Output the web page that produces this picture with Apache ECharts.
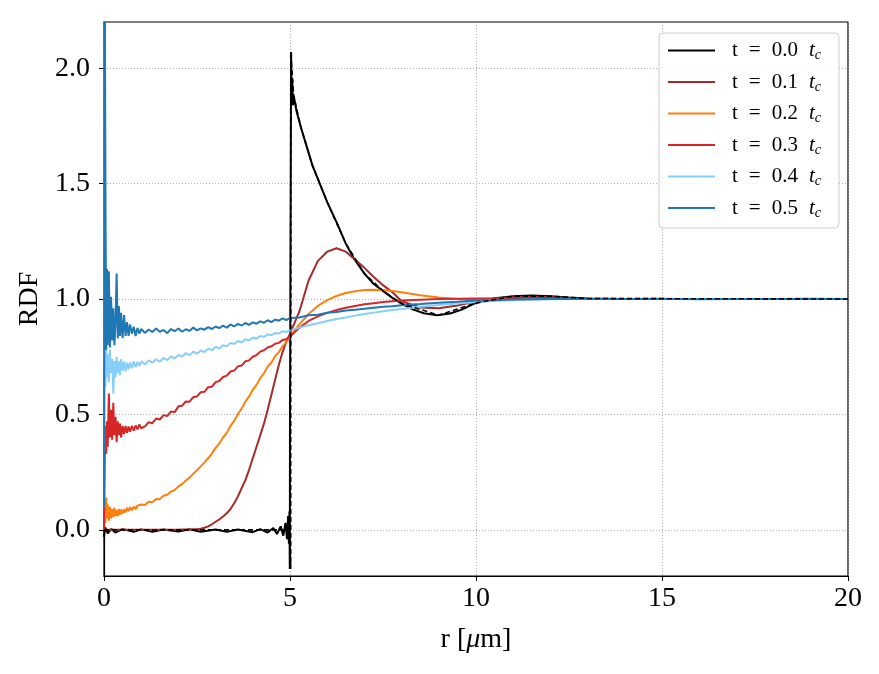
<!DOCTYPE html>
<html>
<head>
<meta charset="utf-8">
<script src="https://cdn.jsdelivr.net/npm/echarts@6/dist/echarts.min.js"></script>
<style>
  html, body { margin: 0; padding: 0; background: #fff; }
  #chart { width: 879px; height: 674px; }
</style>
</head>
<body>
<div id="chart"></div>
<script>
// shared r grid [um] for the t > 0 curves
const r = [
  0, 0.02, 0.04, 0.06, 0.08, 0.1, 0.13, 0.16, 0.19, 0.22,
  0.25, 0.28, 0.31, 0.34, 0.37, 0.4, 0.43, 0.46, 0.5, 0.54,
  0.58, 0.62, 0.66, 0.7, 0.75, 0.8, 0.85, 0.9, 0.95, 1.0,
  1.1, 1.2, 1.3, 1.4, 1.5, 1.6, 1.7, 1.8, 1.9, 2.0,
  2.1, 2.2, 2.3, 2.4, 2.5, 2.6, 2.7, 2.8, 2.9, 3.0,
  3.1, 3.2, 3.3, 3.4, 3.5, 3.6, 3.7, 3.8, 3.9, 4.0,
  4.1, 4.2, 4.3, 4.4, 4.5, 4.6, 4.7, 4.8, 4.9, 5.0,
  5.25, 5.5, 5.75, 6.0, 6.25, 6.5, 6.75, 7.0, 7.25, 7.5,
  7.75, 8.0, 8.5, 9.0, 9.5, 10.0, 10.5, 11.0, 11.5, 12.0,
  12.5, 13.0, 14, 15, 16, 17, 18, 19, 20
];

const rdf01 = [
  0, 0, 0, 0, 0, 0, 0, 0, 0, 0,
  0, 0, 0, 0, 0, 0, 0, 0, 0, 0,
  0, 0, 0, 0, 0, 0, 0, 0, 0, 0,
  0, 0, 0, 0, 0, 0, 0, 0, 0, 0,
  0.001, 0.001, 0.002, 0.002, 0.003, 0.005, 0.009, 0.015, 0.024, 0.035,
  0.045, 0.058, 0.072, 0.09, 0.115, 0.145, 0.18, 0.215, 0.26, 0.31,
  0.36, 0.41, 0.46, 0.52, 0.585, 0.65, 0.715, 0.77, 0.815, 0.85,
  0.945, 1.08, 1.165, 1.205, 1.22, 1.205, 1.17, 1.135, 1.095, 1.06,
  1.03, 0.99, 0.963, 0.96, 0.972, 0.99, 1.002, 1.008, 1.01, 1.009,
  1.004, 1.0, 1.0, 1.0, 1.0, 1.0, 1.0, 1.0, 1.0
];

const rdf02 = [
  0.0, 0.12, 0.03, 0.14, 0.05, 0.11, 0.04, 0.1, 0.05, 0.09,
  0.055, 0.095, 0.06, 0.085, 0.06, 0.09, 0.065, 0.088, 0.07, 0.09,
  0.075, 0.095, 0.08, 0.098, 0.085, 0.1, 0.09, 0.105, 0.097, 0.11,
  0.108, 0.122, 0.12, 0.134, 0.133, 0.148, 0.152, 0.166, 0.172, 0.188,
  0.198, 0.214, 0.226, 0.243, 0.258, 0.275, 0.292, 0.31, 0.33, 0.355,
  0.374, 0.4, 0.42, 0.45, 0.472, 0.502, 0.525, 0.555, 0.578, 0.607,
  0.628, 0.657, 0.678, 0.707, 0.725, 0.752, 0.77, 0.795, 0.813, 0.836,
  0.89, 0.935, 0.97, 0.995, 1.013, 1.026, 1.034, 1.039, 1.04, 1.039,
  1.035, 1.029, 1.016, 1.006, 1.0, 0.997, 0.997, 0.998, 0.999, 1.0,
  1.0, 1.0, 1.0, 1.0, 1.0, 1.0, 1.0, 1.0, 1.0
];

const rdf03 = [
  0.0, 0.3, 0.45, 0.33, 0.47, 0.36, 0.59, 0.4, 0.52, 0.39,
  0.55, 0.41, 0.49, 0.38, 0.47, 0.41, 0.46, 0.4, 0.45, 0.415,
  0.45, 0.42, 0.448, 0.425, 0.45, 0.43, 0.452, 0.435, 0.456, 0.44,
  0.448, 0.466, 0.462, 0.482, 0.478, 0.497, 0.493, 0.513, 0.51, 0.535,
  0.538, 0.556, 0.555, 0.575, 0.578, 0.596, 0.598, 0.618, 0.62, 0.64,
  0.645, 0.662, 0.668, 0.686, 0.69, 0.708, 0.712, 0.73, 0.734, 0.75,
  0.757, 0.772, 0.778, 0.79, 0.795, 0.806, 0.81, 0.822, 0.826, 0.837,
  0.875, 0.905, 0.925, 0.94, 0.952, 0.962, 0.97, 0.977, 0.982, 0.987,
  0.99, 0.993, 0.997, 1.0, 1.001, 1.002, 1.002, 1.002, 1.001, 1.001,
  1.0, 1.0, 1.0, 1.0, 1.0, 1.0, 1.0, 1.0, 1.0
];

const rdf04 = [
  0.1, 2.4, 0.62, 0.8, 0.66, 0.76, 0.64, 0.78, 0.68, 0.74,
  0.59, 0.73, 0.66, 0.75, 0.68, 0.73, 0.67, 0.74, 0.69, 0.73,
  0.685, 0.725, 0.695, 0.725, 0.7, 0.73, 0.705, 0.728, 0.71, 0.73,
  0.716, 0.734, 0.724, 0.739, 0.728, 0.745, 0.735, 0.752, 0.742, 0.758,
  0.75, 0.766, 0.756, 0.772, 0.763, 0.777, 0.77, 0.785, 0.777, 0.793,
  0.786, 0.8, 0.795, 0.81, 0.805, 0.818, 0.812, 0.826, 0.82, 0.833,
  0.828, 0.84, 0.836, 0.847, 0.843, 0.853, 0.85, 0.86, 0.857, 0.866,
  0.876, 0.886, 0.895, 0.905, 0.913, 0.92, 0.928, 0.935, 0.941, 0.947,
  0.952, 0.957, 0.966, 0.974, 0.981, 0.987, 0.992, 0.995, 0.998, 0.999,
  1.0, 1.0, 1.0, 1.0, 1.0, 1.0, 1.0, 1.0, 1.0
];

const rdf05 = [
  0.1, 2.5, 1.37, 0.78, 1.13, 0.8, 1.12, 0.79, 1.01, 0.82,
  0.96, 0.8, 0.9, 1.11, 0.83, 0.97, 0.84, 0.94, 0.83, 0.93,
  0.84, 0.9, 0.84, 0.89, 0.85, 0.88, 0.84, 0.875, 0.85, 0.87,
  0.853, 0.868, 0.857, 0.872, 0.858, 0.866, 0.852, 0.87, 0.861, 0.872,
  0.858, 0.869, 0.862, 0.876, 0.864, 0.873, 0.867, 0.878, 0.87, 0.881,
  0.874, 0.885, 0.876, 0.89, 0.881, 0.892, 0.885, 0.896, 0.888, 0.899,
  0.893, 0.903, 0.897, 0.908, 0.9, 0.911, 0.906, 0.916, 0.909, 0.918,
  0.92, 0.93, 0.932, 0.94, 0.944, 0.95, 0.953, 0.958, 0.962, 0.966,
  0.969, 0.973, 0.978, 0.984, 0.988, 0.993, 0.995, 0.998, 0.999, 1.0,
  1.0, 1.0, 1.0, 1.001, 0.999, 1.0, 1.0, 1.001, 1.0
];

// t = 0 has its own grid (sharp step at r = 5)
const rBlack = [
  0, 0.03, 0.1, 0.2, 0.3, 0.5, 0.8, 1.0, 1.3, 1.6,
  2.0, 2.3, 2.6, 3.0, 3.3, 3.6, 4.0, 4.2, 4.4, 4.55,
  4.65, 4.75, 4.82, 4.88, 4.92, 4.95, 4.97, 4.985, 4.995, 5.0,
  5.03, 5.045, 5.06, 5.08, 5.1, 5.18, 5.3, 5.45, 5.6, 5.8,
  6.0, 6.26, 6.5, 6.7, 7.0, 7.25, 7.5, 7.75, 8.0, 8.3,
  8.6, 8.95, 9.3, 9.6, 10.0, 10.5, 11.0, 11.5, 12.0, 12.5,
  13, 14, 15, 16, 17, 18, 19, 20
];
const rdf00 = [
  -0.03, 0.01, -0.015, 0.004, -0.012, 0.003, -0.008, 0.002, -0.008, 0.001,
  -0.007, 0.002, -0.008, 0.001, -0.008, 0.001, -0.01, 0.003, -0.012, 0.008,
  -0.018, 0.015, -0.025, 0.03, -0.04, 0.06, -0.06, 0.08, -0.17, 0.5,
  2.07, 1.86, 1.95, 1.84, 1.88, 1.81, 1.74, 1.66, 1.58, 1.5,
  1.42, 1.33, 1.24, 1.18, 1.11, 1.065, 1.035, 1.005, 0.98, 0.955,
  0.938, 0.93, 0.937, 0.953, 0.983, 1.003, 1.012, 1.015, 1.012, 1.006,
  1.002, 1.0, 1.0, 1.0, 1.0, 1.0, 1.0, 1.0
];

// dashed reference curve
const rRef = [0, 4.99, 5.02, 5.02, 5.1, 5.3, 5.6, 6.0, 6.5, 7.0, 7.5, 8.0, 9.0, 10.0, 11.0, 12.0, 13.0, 20];
const rdfRef = [0, 0, -0.17, 2.07, 1.88, 1.74, 1.58, 1.42, 1.24, 1.11, 1.035, 0.98, 0.93, 0.983, 1.012, 1.012, 1.002, 1.0];

const times = ['0.0', '0.1', '0.2', '0.3', '0.4', '0.5'];
const colors = ['#000000', '#a52a2a', '#ff7f0e', '#d62728', '#87cefa', '#1f77b4'];
const xTicks = [0, 5, 10, 15, 20];
const yTicks = [0, 0.5, 1.0, 1.5, 2.0];

const pairs = (xs, ys) => xs.map((x, i) => [x, ys[i]]);
const seriesData = [
  pairs(rBlack, rdf00),
  pairs(r, rdf01),
  pairs(r, rdf02),
  pairs(r, rdf03),
  pairs(r, rdf04),
  pairs(r, rdf05)
];
const names = times.map(t => 't = ' + t + ' tc');

const serif = 'Liberation Serif';
const chart = echarts.init(document.getElementById('chart'));

const series = seriesData.map((d, i) => ({
  name: names[i],
  type: 'line',
  data: d,
  symbol: 'none',
  clip: true,
  lineStyle: { color: colors[i], width: 2 },
  itemStyle: { color: colors[i] },
  z: 2 + i
}));
series.push({
  name: 'ref',
  type: 'line',
  data: pairs(rRef, rdfRef),
  symbol: 'none',
  lineStyle: { color: '#000', width: 1.6, type: [5, 3] },
  z: 10
});

chart.setOption({
  animation: false,
  backgroundColor: '#fff',
  grid: {
    left: 104, right: 31, top: 22, bottom: 98,
    show: true, borderColor: '#000', borderWidth: 1.2
  },
  xAxis: {
    type: 'value',
    min: 0, max: 20, interval: 5,
    name: 'r [{i|μ}m]',
    nameLocation: 'middle',
    nameGap: 50,
    nameTextStyle: {
      fontFamily: serif, fontSize: 28, color: '#000',
      rich: { i: { fontFamily: serif, fontSize: 28, fontStyle: 'italic', color: '#000' } }
    },
    axisLine: { show: true, onZero: false, lineStyle: { color: '#000', width: 1.2 } },
    axisTick: { show: true, length: 5, lineStyle: { color: '#000', width: 1 } },
    axisLabel: {
      fontFamily: serif, fontSize: 28, color: '#000', margin: 9,
      customValues: xTicks
    },
    splitLine: { show: true, lineStyle: { color: '#999', type: [1, 2], width: 0.8 } }
  },
  yAxis: {
    type: 'value',
    min: -0.2, max: 2.2,
    name: 'RDF',
    nameLocation: 'middle',
    nameRotate: 90,
    nameGap: 60,
    nameTextStyle: { fontFamily: serif, fontSize: 28, color: '#000' },
    axisLine: { show: true, onZero: false, lineStyle: { color: '#000', width: 1.2 } },
    axisTick: { show: true, length: 5, lineStyle: { color: '#000', width: 1 }, customValues: yTicks },
    axisLabel: {
      fontFamily: serif, fontSize: 28, color: '#000', margin: 14,
      customValues: yTicks,
      formatter: v => v.toFixed(1)
    },
    splitLine: { show: true, lineStyle: { color: '#999', type: [1, 2], width: 0.8 } }
  },
  legend: {
    data: names,
    orient: 'vertical',
    left: 659, top: 33,
    icon: 'rect',
    itemWidth: 47, itemHeight: 2, itemGap: 9,
    padding: [7, 18, 8, 9],
    backgroundColor: 'rgba(255,255,255,0.85)',
    borderColor: '#cccccc', borderWidth: 1, borderRadius: 4,
    formatter: name => {
      const k = names.indexOf(name);
      return '{a|t}{b|=}{b|' + times[k] + '}{i|t}{s|c}';
    },
    textStyle: {
      fontFamily: serif, fontSize: 21, color: '#000',
      rich: {
        a: { fontFamily: serif, fontSize: 21, color: '#000', padding: [0, 0, 0, 12], lineHeight: 24 },
        b: { fontFamily: serif, fontSize: 21, color: '#000', padding: [0, 0, 0, 11], lineHeight: 24 },
        i: { fontFamily: serif, fontSize: 21, fontStyle: 'italic', color: '#000', padding: [0, 0, 0, 11], lineHeight: 24 },
        s: { fontFamily: serif, fontSize: 14, fontStyle: 'italic', color: '#000', verticalAlign: 'bottom', lineHeight: 14 }
      }
    }
  },
  series: series
});
</script>
</body>
</html>
